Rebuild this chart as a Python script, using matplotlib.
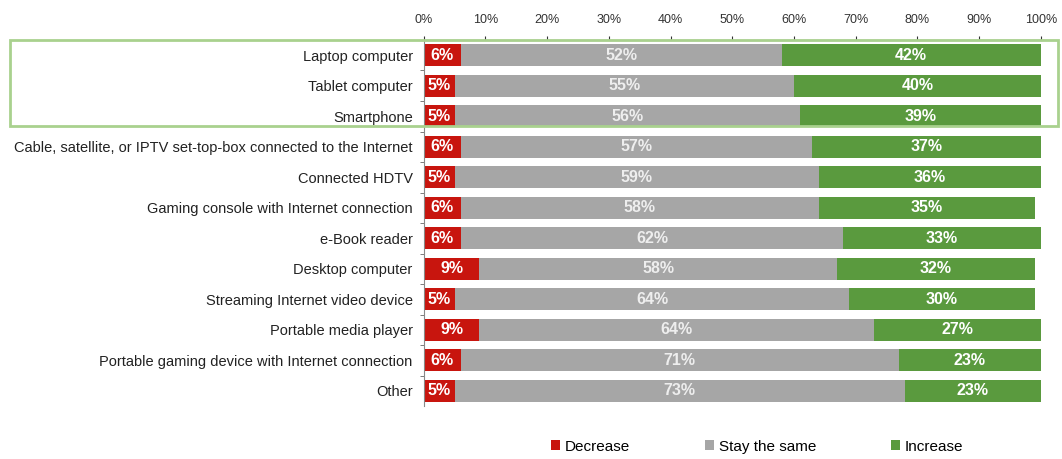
import matplotlib
matplotlib.use("Agg")
import matplotlib.pyplot as plt
from matplotlib.patches import Rectangle
from matplotlib.ticker import PercentFormatter, MultipleLocator, FixedLocator

plt.rcParams['font.family'] = ['Liberation Sans', 'DejaVu Sans']

devices = [
    "Laptop computer",
    "Tablet computer",
    "Smartphone",
    "Cable, satellite, or IPTV set-top-box connected to the Internet",
    "Connected HDTV",
    "Gaming console with Internet connection",
    "e-Book reader",
    "Desktop computer",
    "Streaming Internet video device",
    "Portable media player",
    "Portable gaming device with Internet connection",
    "Other",
]
decrease = [6, 5, 5, 6, 5, 6, 6, 9, 5, 9, 6, 5]
stay_same = [52, 55, 56, 57, 59, 58, 62, 58, 64, 64, 71, 73]
increase = [42, 40, 39, 37, 36, 35, 33, 32, 30, 27, 23, 23]

red = '#c8150e'
grey = '#a6a6a6'
green = '#5a9a3e'

fig = plt.figure(figsize=(10.62, 4.59), dpi=100)
ax = fig.add_axes([0.399, 0.115, 0.581, 0.798])

y = list(range(len(devices)))
h = 0.72
left_grey = decrease
left_green = [d + s for d, s in zip(decrease, stay_same)]

b1 = ax.barh(y, decrease, height=h, color=red, label='Decrease')
b2 = ax.barh(y, stay_same, left=left_grey, height=h, color=grey, label='Stay the same')
b3 = ax.barh(y, increase, left=left_green, height=h, color=green, label='Increase')

for bars, vals, col in [(b1, decrease, 'white'), (b2, stay_same, '#eeeeee'), (b3, increase, 'white')]:
    ax.bar_label(bars, labels=[f'{v}%' for v in vals], label_type='center',
                 color=col, fontsize=11.5, fontweight='bold')

ax.set_xlim(0, 100)
ax.set_ylim(len(devices) - 0.5, -0.5)
ax.xaxis.set_major_locator(MultipleLocator(10))
ax.xaxis.set_major_formatter(PercentFormatter(decimals=0))
ax.xaxis.tick_top()
ax.tick_params(axis='x', labelsize=9, colors='#333333', length=3, pad=7)

ax.set_yticks(y)
ax.set_yticklabels(devices, fontsize=10.5, color='#222222')
ax.tick_params(axis='y', which='major', length=0, pad=8)
ax.yaxis.set_minor_locator(FixedLocator([i + 0.5 for i in y[:-1]]))
ax.tick_params(axis='y', which='minor', length=3, color='#666666')

for side in ['right', 'bottom']:
    ax.spines[side].set_visible(False)
ax.spines['top'].set_color('#333333')
ax.spines['left'].set_color('#888888')
ax.spines['left'].set_linewidth(0.8)

# highlight box around the mobile devices
fig.patches.append(Rectangle((10 / 1062, 1 - 126 / 459), 1048 / 1062, 86 / 459,
                             transform=fig.transFigure, fill=False,
                             edgecolor='#a9d18e', linewidth=2))

fig.legend(handles=[b1, b2, b3], loc='center', bbox_to_anchor=(0.713, 0.027),
           ncol=3, frameon=False, fontsize=11, handlelength=0.6, handleheight=0.6,
           handletextpad=0.3, columnspacing=4.9)

fig.savefig('out.png', dpi=100)
